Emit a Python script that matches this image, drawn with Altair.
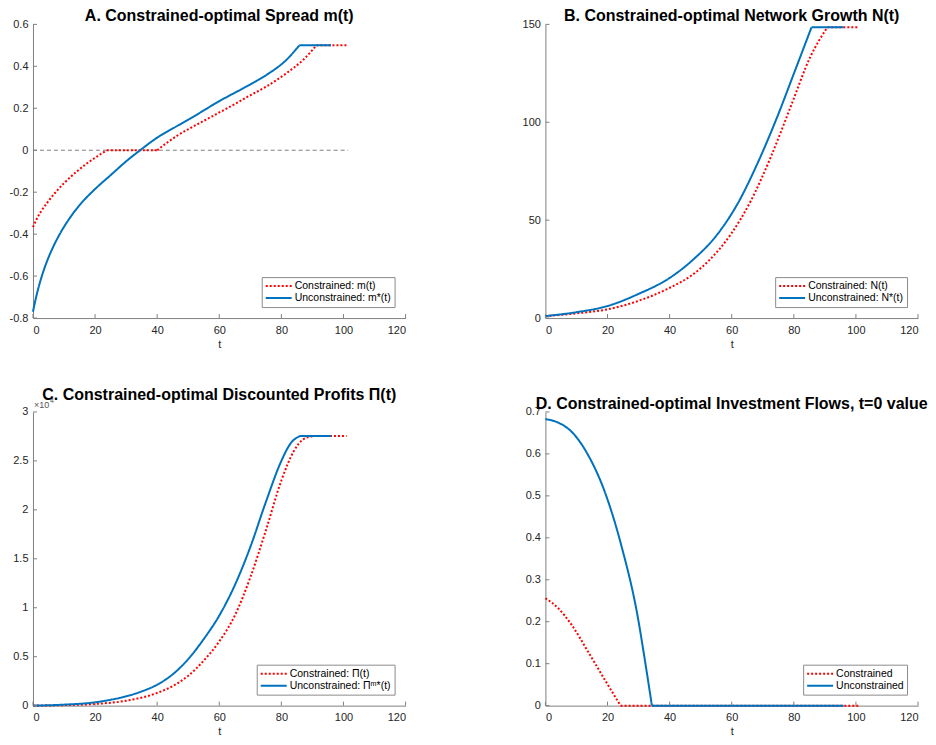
import altair as alt
import pandas as pd

FONT = "Liberation Sans"
RED = "#ff0000"
BLUE = "#0072bd"
AXIS = "#808080"
W, H = 373, 294

X_TICKS = [0, 20, 40, 60, 80, 100, 120]

# ---------------- Panel A: spread m(t) ----------------
a_t_con = [0, 1, 2.5, 4.5, 7, 10, 13.5, 17, 20.5, 23.8, 40, 43, 46.3, 51.6, 56, 60, 65,
           69.4, 75.3, 81.7, 87.1, 91.3, 101]
a_v_con = [-0.367, -0.334, -0.294, -0.252, -0.205, -0.157, -0.109, -0.067, -0.031, 0, 0,
           0.034, 0.068, 0.113, 0.148, 0.18, 0.22, 0.257, 0.305, 0.368, 0.432, 0.5, 0.5]
a_brk_con = [23.8, 40, 91.3]
a_t_unc = [0, 0.5, 1, 2, 3, 4.5, 6.5, 9, 12, 16, 20, 25, 30, 34.5, 40, 46, 52, 60, 68.9,
           75.3, 81.7, 85.8, 96]
a_v_unc = [-0.77, -0.734, -0.701, -0.643, -0.593, -0.530, -0.461, -0.390, -0.320, -0.245,
           -0.185, -0.119, -0.053, 0, 0.06, 0.112, 0.163, 0.234, 0.305, 0.36, 0.432, 0.5, 0.5]
a_brk_unc = [85.8]
a_labels = ["Constrained: m(t)", "Unconstrained: m*(t)"]
a_yticks = [-0.8, -0.6, -0.4, -0.2, 0, 0.2, 0.4, 0.6]

# ---------------- Panel B: network N(t) ----------------
b_t_con = [0, 10, 20.1, 29.8, 40.2, 46.9, 52.8, 59.8, 66.2, 72.6, 79.0, 85.4, 90.8, 101]
b_v_con = [1, 2.4, 4.5, 8.7, 15.6, 21.6, 29.6, 43, 60, 82.3, 108, 133.7, 148.5, 148.5]
b_brk_con = [90.8]
b_t_unc = [0, 10, 20.1, 29.8, 40.2, 47.4, 55.5, 61.9, 68.3, 74.7, 80.1, 85.7, 96]
b_v_unc = [1, 3.0, 6.2, 12.2, 20.7, 29.6, 43, 58.4, 79, 102.9, 125.2, 148.5, 148.5]
b_brk_unc = [85.7]
b_labels = ["Constrained: N(t)", "Unconstrained: N*(t)"]
b_yticks = [0, 50, 100, 150]

# ---------------- Panel C: discounted profits (x 10^4) ----------------
c_t_con = [0, 10, 20, 30, 40, 45, 50, 55, 60, 65, 70, 75, 80, 84, 87, 90.5, 101]
c_v_con = [0, 0.005, 0.017, 0.05, 0.13, 0.2, 0.305, 0.46, 0.656, 0.92, 1.31, 1.79, 2.30,
           2.6, 2.72, 2.755, 2.755]
c_brk_con = [90.5]
c_t_unc = [0, 10, 20, 25, 30, 35, 40, 45, 50, 55, 60, 65, 70, 75, 80, 83, 86, 96]
c_v_unc = [0, 0.01, 0.034, 0.06, 0.095, 0.145, 0.214, 0.32, 0.475, 0.68, 0.92, 1.23, 1.62,
           2.08, 2.50, 2.68, 2.755, 2.755]
c_brk_unc = [86]
c_labels = ["Constrained: \u03a0(t)", "Unconstrained: \u03a0\u1d50*(t)"]
c_yticks = [0, 0.5, 1, 1.5, 2, 2.5, 3]

# ---------------- Panel D: investment flows ----------------
d_t_con = [0, 4, 8.4, 13.7, 19.1, 24.2, 101]
d_v_con = [0.256, 0.233, 0.193, 0.129, 0.062, 0, 0]
d_brk_con = [24.2]
d_t_unc = [0, 4, 8.4, 13.7, 19.1, 24.4, 29.8, 32, 34.3, 96]
d_v_unc = [0.683, 0.675, 0.653, 0.598, 0.51, 0.383, 0.209, 0.11, 0, 0]
d_brk_unc = [34.3]
d_labels = ["Constrained", "Unconstrained"]
d_yticks = [0, 0.1, 0.2, 0.3, 0.4, 0.5, 0.6, 0.7]

LABEL_EXPR = "replace(format(datum.value, '~g'), '\u2212', '-')"


def segments(ts, vs, breaks, label):
    """Long table of one series, split into pieces at its kinks (kink points shared)."""
    rows, g = [], 0
    for t, v in zip(ts, vs):
        rows.append({"t": t, "v": v, "s": label, "g": g})
        if t in breaks:
            g += 1
            rows.append({"t": t, "v": v, "s": label, "g": g})
    return pd.DataFrame(rows)


def no_extra(xenc, yenc):
    return []


def panel(con, unc, labels, yticks, title, extra=no_extra):
    ydom = [yticks[0], yticks[-1]]
    xenc = alt.X("t:Q", scale=alt.Scale(domain=[0, 120], nice=False, zero=False),
                 axis=alt.Axis(values=X_TICKS, title="t"))
    yenc = alt.Y("v:Q", scale=alt.Scale(domain=ydom, nice=False, zero=False),
                 axis=alt.Axis(values=yticks, title=None, labelExpr=LABEL_EXPR))
    leg = alt.Legend(title=None, orient="bottom-right", offset=11, strokeColor="#8c8c8c",
                     fillColor="white", padding=3, symbolType="M-1,0H4.2", symbolSize=100,
                     symbolStrokeWidth=2, labelFontSize=10.5, labelFont=FONT,
                     labelColor="#000000", labelOffset=18, rowPadding=0, labelLimit=0)
    cenc = alt.Color("s:N", scale=alt.Scale(domain=labels, range=[RED, BLUE]), legend=leg)
    denc = alt.StrokeDash("s:N", scale=alt.Scale(domain=labels, range=[[2, 2], [1, 0]]),
                          legend=leg)
    df_con = segments(con[0], con[1], con[2], labels[0])
    df_unc = segments(unc[0], unc[1], unc[2], labels[1])
    l_con = alt.Chart(df_con).mark_line(strokeWidth=2, interpolate="monotone").encode(
        x=xenc, y=yenc, color=cenc, strokeDash=denc, detail="g:N")
    l_unc = alt.Chart(df_unc).mark_line(strokeWidth=2, interpolate="monotone").encode(
        x=xenc, y=yenc, color=cenc, strokeDash=denc, detail="g:N")
    xt = alt.Chart(pd.DataFrame({"t": X_TICKS})).mark_rule(color=AXIS, strokeWidth=1).encode(
        x=xenc, y=alt.value(H), y2=alt.value(H - 4))
    yt = alt.Chart(pd.DataFrame({"v": yticks})).mark_rule(color=AXIS, strokeWidth=1).encode(
        y=yenc, x=alt.value(0), x2=alt.value(4))
    layers = list(extra(xenc, yenc)) + [l_con, l_unc, xt, yt]
    return alt.layer(*layers).properties(width=W, height=H, title=title)


def zero_line(xenc, yenc):
    df = pd.DataFrame({"t": [0], "t2": [101.5], "v": [0]})
    return [alt.Chart(df).mark_rule(color="#808080", strokeWidth=1, strokeDash=[4, 3]).encode(
        x=xenc, x2="t2:Q", y=yenc)]


def exponent(xenc, yenc):
    base = alt.Chart(pd.DataFrame({"lab": ["\u00d710"]})).mark_text(
        align="left", baseline="middle", fontSize=9, font=FONT, color="#555555").encode(
        x=alt.value(1), y=alt.value(-7), text="lab:N")
    power = alt.Chart(pd.DataFrame({"lab": ["4"]})).mark_text(
        align="left", baseline="middle", fontSize=7, font=FONT, color="#555555").encode(
        x=alt.value(17), y=alt.value(-11), text="lab:N")
    return [base, power]


pA = panel((a_t_con, a_v_con, a_brk_con), (a_t_unc, a_v_unc, a_brk_unc), a_labels, a_yticks,
           "A. Constrained-optimal Spread m(t)", zero_line)
pB = panel((b_t_con, b_v_con, b_brk_con), (b_t_unc, b_v_unc, b_brk_unc), b_labels, b_yticks,
           "B. Constrained-optimal Network Growth N(t)")
pC = panel((c_t_con, c_v_con, c_brk_con), (c_t_unc, c_v_unc, c_brk_unc), c_labels, c_yticks,
           "C. Constrained-optimal Discounted Profits \u03a0(t)", exponent)
pD = panel((d_t_con, d_v_con, d_brk_con), (d_t_unc, d_v_unc, d_brk_unc), d_labels, d_yticks,
           "D. Constrained-optimal Investment Flows, t=0 value")

chart = alt.concat(pA, pB, pC, pD, columns=2, spacing={"row": 38, "column": 115}).resolve_scale(
    color="independent", strokeDash="independent", x="independent", y="independent"
).properties(
    padding={"left": 1, "top": 0, "right": 0, "bottom": 0}
).configure_view(stroke=None).configure_axis(
    grid=False, ticks=False, domainColor=AXIS, domainWidth=1, labelFont=FONT,
    labelFontSize=11, labelColor="#262626", labelPadding=5, titleFont=FONT,
    titleFontSize=11, titleFontWeight="normal", titleColor="#262626", titlePadding=3
).configure_axisX(labelPadding=6).configure_title(
    font=FONT, fontSize=16, fontWeight="bold", color="#000000", anchor="middle", offset=-6
)

chart.save("out.html", embed_options={"renderer": "svg", "actions": False})
